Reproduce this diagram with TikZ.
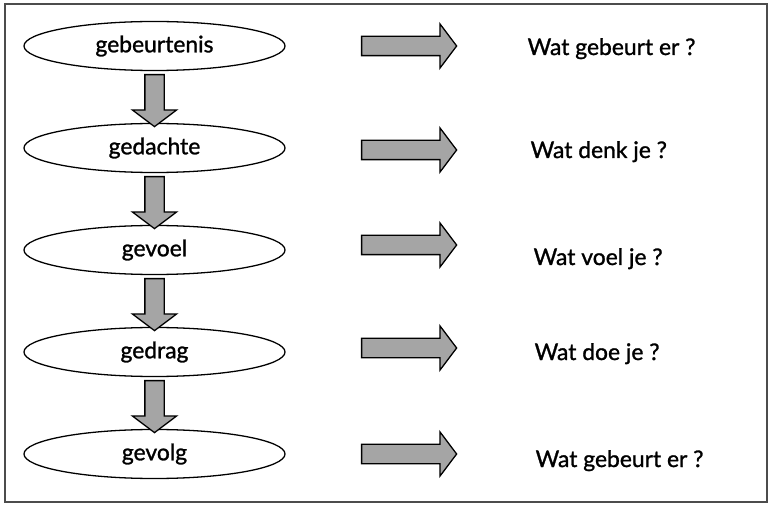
\documentclass[tikz,border=0pt]{standalone}
\usepackage{fontspec}
\setmainfont{Lato}[UprightFeatures={FakeBold=1.2}]
\usetikzlibrary{%
  shapes,%
  shapes.arrows,% wg. single arrow
  positioning,%
  calc%
}
\definecolor{arrowgray}{RGB}{165,165,165}

\begin{document}
\begin{tikzpicture}
  [
  x=0.03cm, y=-0.03cm, font=\fontsize{19.5}{22}\selectfont, line width=1.1pt,
  stage/.style={ellipse, minimum width=7.83cm, minimum height=1.47cm, draw=black, fill=white},
  question/.style={anchor=base west, inner sep=0pt},
  blockarrow/.style={single arrow, draw=black, fill=arrowgray, inner sep=0.27cm, single arrow head extend=0.375cm, single arrow tip angle=106},
  rightarrow/.style={blockarrow, minimum height=2.85cm},
  downarrow/.style={blockarrow, rotate=-90, minimum height=1.56cm}
  ]

\useasboundingbox (0,0) rectangle (771,508);
\draw[black!70, line width=1.2pt] (5,4) rectangle (767,502);

\foreach \s/\word in {1/gebeurtenis,2/gedachte,3/gevoel,4/gedrag,5/gevolg} {
  \node[stage] (s\s) at (154.5,46+102*\s-102) {\word};
}

\foreach \s/\t in {1/2,2/3,3/4,4/5} {
  \node[downarrow] (d\s) at ($(s\s.south)!0.5!(s\t.north)$) {};
}

\node[rightarrow] (r1) at (405.5,46) {};
\node[rightarrow] (r2) at (405.5,150) {};
\node[rightarrow] (r3) at (405.5,245) {};
\node[rightarrow] (r4) at (405.5,348) {};
\node[rightarrow] (r5) at (405.5,454) {};

\node[question] (q1) at (527,55) {Wat gebeurt er ?};
\node[question] (q2) at (530,158) {Wat denk je ?};
\node[question] (q3) at (533,265) {Wat voel je ?};
\node[question] (q4) at (534,360) {Wat doe je ?};
\node[question] (q5) at (535,467) {Wat gebeurt er ?};

\end{tikzpicture}
\end{document}
